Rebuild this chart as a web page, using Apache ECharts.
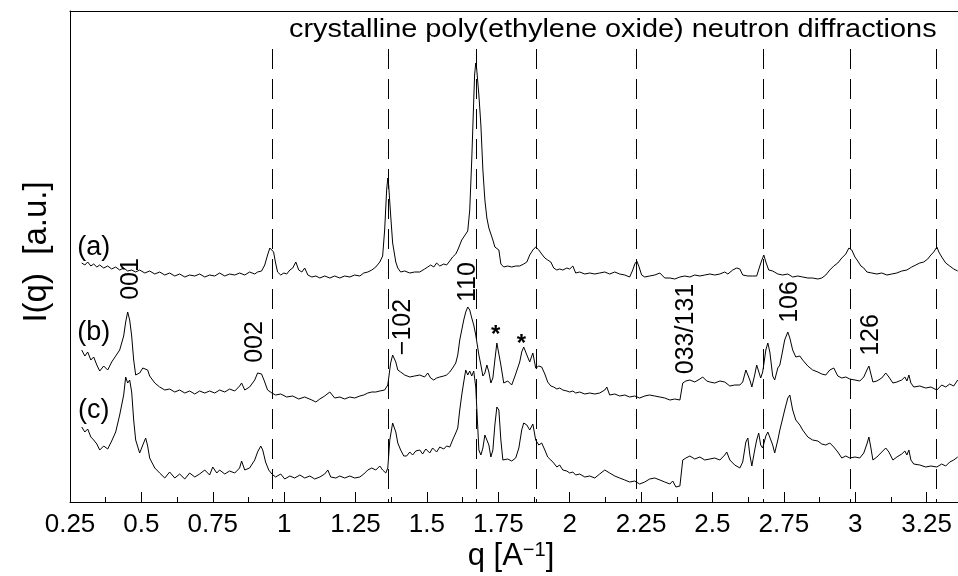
<!DOCTYPE html>
<html>
<head>
<meta charset="utf-8">
<script src="https://cdn.jsdelivr.net/npm/echarts@6/dist/echarts.min.js"></script>
<style>
  html, body { margin: 0; padding: 0; background: #fff; }
  #chart { width: 958px; height: 576px; }
</style>
</head>
<body>
<div id="chart"></div>
<script>
// Neutron diffraction patterns I(q), offset vertically: (a) crystalline PEO, (b), (c)
const curveA = [[0.291,239],[0.302,237],[0.312,240],[0.323,236],[0.333,238],[0.344,235],[0.354,237],[0.368,234],[0.382,236],[0.396,233],[0.410,235],[0.424,232],[0.438,234],[0.452,231],[0.466,232],[0.480,230],[0.494,232],[0.512,229],[0.529,231],[0.547,228],[0.564,230],[0.582,227],[0.599,229],[0.617,226],[0.634,228],[0.652,225],[0.669,227],[0.687,226],[0.704,228],[0.722,225],[0.739,227],[0.757,226],[0.774,229],[0.792,226],[0.809,228],[0.827,227],[0.844,229],[0.862,227],[0.879,230],[0.897,228],[0.907,230],[0.921,231],[0.932,237],[0.942,247],[0.950,254],[0.957,255],[0.963,250],[0.970,239],[0.977,230],[0.988,227],[0.999,229],[1.009,228],[1.020,232],[1.030,234],[1.041,240],[1.051,232],[1.062,230],[1.072,234],[1.083,227],[1.097,225],[1.111,226],[1.125,224],[1.142,226],[1.160,224],[1.177,226],[1.195,224],[1.212,226],[1.230,225],[1.247,227],[1.265,226],[1.279,229],[1.293,230],[1.307,232],[1.321,235],[1.335,240],[1.345,246],[1.352,272],[1.359,312],[1.363,324],[1.366,317],[1.373,287],[1.380,259],[1.391,240],[1.398,234],[1.408,230],[1.422,231],[1.440,229],[1.457,230],[1.475,230],[1.492,233],[1.503,235],[1.513,237],[1.524,235],[1.534,239],[1.545,236],[1.559,238],[1.569,237],[1.580,241],[1.590,245],[1.601,248],[1.608,252],[1.615,257],[1.622,262],[1.629,264],[1.636,268],[1.643,271],[1.650,292],[1.657,342],[1.664,402],[1.667,427],[1.671,439],[1.674,434],[1.682,407],[1.689,377],[1.696,332],[1.703,302],[1.710,284],[1.717,274],[1.724,268],[1.731,262],[1.738,255],[1.745,256],[1.752,252],[1.759,238],[1.769,235],[1.783,236],[1.797,235],[1.811,236],[1.825,236],[1.839,238],[1.850,240],[1.860,247],[1.871,252],[1.881,255],[1.892,252],[1.902,248],[1.913,244],[1.923,242],[1.934,240],[1.944,234],[1.955,232],[1.965,233],[1.976,232],[1.990,234],[2.000,233],[2.011,236],[2.021,229],[2.035,230],[2.053,228],[2.070,229],[2.088,228],[2.105,229],[2.123,230],[2.140,228],[2.158,230],[2.175,228],[2.193,227],[2.210,225],[2.221,232],[2.228,238],[2.235,241],[2.242,236],[2.252,227],[2.263,225],[2.280,226],[2.298,227],[2.316,229],[2.333,224],[2.351,224],[2.368,223],[2.386,225],[2.403,226],[2.421,225],[2.438,227],[2.456,226],[2.473,227],[2.491,228],[2.508,227],[2.526,228],[2.543,230],[2.554,228],[2.571,232],[2.585,234],[2.596,233],[2.606,227],[2.624,226],[2.641,226],[2.655,226],[2.666,236],[2.673,242],[2.680,247],[2.687,240],[2.697,232],[2.711,231],[2.729,228],[2.746,227],[2.764,228],[2.781,225],[2.799,226],[2.816,225],[2.834,224],[2.851,224],[2.869,223],[2.883,224],[2.897,227],[2.911,232],[2.925,236],[2.939,239],[2.953,244],[2.967,248],[2.978,254],[2.981,256],[2.988,252],[2.999,245],[3.009,241],[3.020,236],[3.030,234],[3.041,230],[3.058,229],[3.076,228],[3.093,229],[3.111,227],[3.128,228],[3.146,229],[3.163,231],[3.181,232],[3.198,235],[3.212,237],[3.226,239],[3.240,240],[3.254,243],[3.265,247],[3.275,250],[3.286,255],[3.293,250],[3.303,245],[3.317,239],[3.331,236],[3.345,233],[3.359,231]];

const curveB = [[0.291,152],[0.302,146],[0.312,150],[0.323,142],[0.333,145],[0.344,137],[0.354,131],[0.368,136],[0.382,132],[0.396,140],[0.410,146],[0.424,152],[0.438,166],[0.445,180],[0.452,190],[0.459,182],[0.466,166],[0.473,142],[0.480,127],[0.494,129],[0.505,134],[0.512,136],[0.522,132],[0.529,126],[0.547,119],[0.564,115],[0.582,112],[0.599,113],[0.617,110],[0.634,112],[0.652,109],[0.669,111],[0.687,108],[0.704,111],[0.722,109],[0.739,111],[0.757,109],[0.774,112],[0.792,110],[0.809,113],[0.827,111],[0.844,116],[0.851,119],[0.862,112],[0.879,115],[0.897,122],[0.907,129],[0.914,131],[0.921,128],[0.932,120],[0.942,112],[0.957,109],[0.970,107],[0.988,108],[1.009,105],[1.030,106],[1.051,103],[1.072,105],[1.097,102],[1.111,100],[1.125,103],[1.142,106],[1.160,110],[1.177,104],[1.195,105],[1.212,103],[1.230,105],[1.247,104],[1.265,106],[1.279,107],[1.293,109],[1.307,110],[1.321,110],[1.335,111],[1.352,112],[1.363,117],[1.373,139],[1.380,147],[1.391,140],[1.398,132],[1.408,130],[1.422,127],[1.440,125],[1.457,126],[1.475,127],[1.492,125],[1.503,129],[1.513,124],[1.524,122],[1.534,124],[1.545,125],[1.559,126],[1.569,127],[1.580,130],[1.590,134],[1.601,139],[1.608,147],[1.615,162],[1.622,172],[1.629,182],[1.636,190],[1.643,195],[1.650,192],[1.657,184],[1.664,177],[1.671,167],[1.682,147],[1.689,137],[1.696,126],[1.703,129],[1.710,137],[1.717,130],[1.724,119],[1.731,124],[1.738,142],[1.745,159],[1.752,157],[1.759,137],[1.769,119],[1.783,121],[1.797,117],[1.811,128],[1.825,140],[1.832,150],[1.839,155],[1.850,147],[1.860,140],[1.871,149],[1.881,134],[1.892,136],[1.902,135],[1.913,128],[1.923,120],[1.934,116],[1.944,115],[1.955,113],[1.965,114],[1.976,112],[1.990,111],[2.000,110],[2.011,111],[2.021,109],[2.035,110],[2.053,108],[2.070,109],[2.088,108],[2.105,109],[2.123,112],[2.130,115],[2.140,107],[2.158,108],[2.175,106],[2.193,107],[2.210,105],[2.228,106],[2.245,104],[2.263,106],[2.280,107],[2.298,106],[2.316,105],[2.333,104],[2.351,102],[2.368,103],[2.386,102],[2.396,119],[2.407,121],[2.421,122],[2.438,120],[2.456,123],[2.466,125],[2.480,121],[2.491,120],[2.508,119],[2.526,121],[2.543,120],[2.561,116],[2.578,117],[2.596,117],[2.606,120],[2.617,132],[2.624,134],[2.631,122],[2.638,115],[2.648,127],[2.655,137],[2.662,139],[2.669,124],[2.676,130],[2.687,152],[2.694,159],[2.701,150],[2.711,126],[2.718,122],[2.729,134],[2.736,137],[2.743,147],[2.753,162],[2.764,170],[2.771,164],[2.781,152],[2.792,145],[2.806,146],[2.816,142],[2.834,136],[2.851,132],[2.869,130],[2.883,128],[2.897,127],[2.911,132],[2.925,134],[2.939,126],[2.953,124],[2.967,125],[2.981,123],[2.999,122],[3.016,121],[3.030,125],[3.041,132],[3.048,136],[3.055,128],[3.062,120],[3.076,121],[3.093,124],[3.107,129],[3.118,125],[3.132,119],[3.146,120],[3.163,122],[3.174,125],[3.181,121],[3.188,127],[3.195,119],[3.205,115],[3.226,116],[3.247,114],[3.265,115],[3.286,112],[3.303,117],[3.317,115],[3.331,118],[3.345,116],[3.359,122]];

const curveC = [[0.291,75],[0.302,70],[0.312,73],[0.323,65],[0.333,62],[0.344,58],[0.354,52],[0.368,56],[0.382,53],[0.396,61],[0.410,70],[0.424,87],[0.438,107],[0.445,125],[0.452,119],[0.459,122],[0.466,110],[0.473,82],[0.480,62],[0.494,49],[0.505,57],[0.515,64],[0.522,56],[0.529,44],[0.536,40],[0.547,34],[0.564,29],[0.582,24],[0.599,30],[0.617,24],[0.634,28],[0.652,23],[0.669,29],[0.687,25],[0.704,28],[0.722,32],[0.739,27],[0.750,35],[0.764,29],[0.774,32],[0.792,28],[0.809,31],[0.827,29],[0.844,34],[0.851,41],[0.862,32],[0.879,34],[0.897,42],[0.907,50],[0.918,56],[0.925,52],[0.935,40],[0.946,32],[0.957,28],[0.970,25],[0.988,28],[1.002,23],[1.020,26],[1.037,24],[1.055,27],[1.072,24],[1.090,26],[1.107,23],[1.125,25],[1.142,28],[1.153,32],[1.163,25],[1.181,24],[1.195,26],[1.212,24],[1.230,26],[1.247,24],[1.265,25],[1.279,28],[1.293,32],[1.307,34],[1.321,32],[1.335,36],[1.345,32],[1.356,29],[1.363,34],[1.370,62],[1.380,79],[1.391,70],[1.398,59],[1.408,52],[1.419,46],[1.429,46],[1.440,50],[1.450,47],[1.461,51],[1.475,52],[1.485,48],[1.496,53],[1.510,49],[1.520,54],[1.534,50],[1.545,55],[1.559,53],[1.569,56],[1.580,55],[1.590,62],[1.601,69],[1.608,74],[1.615,92],[1.622,107],[1.629,120],[1.636,132],[1.643,127],[1.650,131],[1.657,126],[1.664,131],[1.671,115],[1.682,52],[1.689,47],[1.696,54],[1.703,67],[1.710,69],[1.717,57],[1.724,45],[1.731,52],[1.738,77],[1.745,95],[1.752,92],[1.759,62],[1.766,42],[1.783,43],[1.797,41],[1.811,44],[1.822,54],[1.832,72],[1.839,79],[1.850,77],[1.860,72],[1.871,78],[1.881,62],[1.892,57],[1.902,59],[1.913,52],[1.923,45],[1.934,42],[1.944,39],[1.955,35],[1.965,37],[1.976,32],[1.990,31],[2.000,29],[2.011,30],[2.021,27],[2.035,28],[2.053,25],[2.070,26],[2.088,24],[2.105,28],[2.123,32],[2.130,34],[2.140,29],[2.158,26],[2.175,24],[2.193,22],[2.210,20],[2.228,21],[2.245,18],[2.263,20],[2.280,23],[2.298,24],[2.316,22],[2.333,20],[2.351,18],[2.361,21],[2.372,15],[2.386,16],[2.396,42],[2.407,44],[2.421,46],[2.438,43],[2.456,45],[2.473,42],[2.491,43],[2.508,44],[2.526,42],[2.543,47],[2.550,50],[2.561,42],[2.578,37],[2.596,34],[2.606,40],[2.617,60],[2.624,64],[2.631,47],[2.638,36],[2.648,52],[2.655,62],[2.662,69],[2.669,57],[2.676,54],[2.687,66],[2.694,70],[2.701,70],[2.711,57],[2.718,49],[2.729,62],[2.736,72],[2.743,80],[2.753,92],[2.764,104],[2.771,107],[2.781,92],[2.792,82],[2.806,77],[2.816,72],[2.834,65],[2.851,62],[2.869,61],[2.883,58],[2.897,57],[2.911,59],[2.925,55],[2.939,50],[2.953,44],[2.967,46],[2.981,44],[2.999,45],[3.016,44],[3.030,49],[3.041,58],[3.048,65],[3.055,54],[3.062,42],[3.076,45],[3.093,50],[3.107,54],[3.118,50],[3.132,42],[3.146,45],[3.163,48],[3.174,51],[3.181,47],[3.188,52],[3.195,42],[3.205,38],[3.226,37],[3.247,35],[3.265,36],[3.286,35],[3.303,38],[3.317,36],[3.331,40],[3.345,42],[3.359,45]];

// Crystalline PEO reflection positions (dashed guides)
const reflectionQ = [0.958, 1.363, 1.673, 1.882, 2.232, 2.679, 2.981, 3.285];
const reflectionTop = 453;

// Miller index annotations
const indexLabels = ['001', '002', '\u2212102', '110', '033/131', '106', '126'];
const indexLabelQ = [0.465, 0.900, 1.416, 1.644, 2.409, 2.771, 3.054];
const indexLabelI = [223, 160, 175, 220, 173, 200, 167];

// Extra peaks marked with asterisks
const starQ = [1.741, 1.831];
const starI = [167, 158];

// Pattern names
const sampleNames = ['(a)', '(b)', '(c)'];
const sampleLabelQ = [0.333, 0.333, 0.333];
const sampleLabelI = [254, 169, 91];

const FONT = '"Liberation Sans", Arial, Helvetica, sans-serif';
const Q_MIN = 0.25, Q_MAX = 3.36, I_MAX = 491;

const chart = echarts.init(document.getElementById('chart'), null, { renderer: 'canvas' });

function curveSeries(name, data) {
  return {
    name, type: 'line', data, xAxisIndex: 0, yAxisIndex: 0,
    showSymbol: false, symbol: 'none', smooth: false, silent: true,
    lineStyle: { color: '#000', width: 1 }, z: 3
  };
}

function labelSeries(name, qs, is, texts, rotate, size, fontWeight) {
  return {
    name, type: 'scatter', xAxisIndex: 0, yAxisIndex: 0, silent: true,
    symbolSize: 1, itemStyle: { color: 'transparent', opacity: 1 }, z: 5,
    data: qs.map((q, k) => [q, is[k], texts[k]]),
    label: {
      show: true, position: 'inside', rotate, opacity: 1,
      formatter: p => p.data[2],
      color: '#000', fontSize: size, fontFamily: FONT, fontWeight: fontWeight || 'normal',
      textBorderWidth: 0
    },
    emphasis: { disabled: true }
  };
}

const option = {
  animation: false,
  backgroundColor: '#fff',
  grid: { left: 70, right: 0, top: 11, bottom: 74, containLabel: false, outerBoundsMode: 'none' },
  xAxis: [
    {
      type: 'value', position: 'bottom', min: Q_MIN, max: Q_MAX, interval: 0.25,
      axisLine: { show: true, lineStyle: { color: '#000', width: 1 } },
      axisTick: { show: true, inside: true, length: 10, lineStyle: { color: '#000', width: 1 } },
      axisLabel: { show: true, showMaxLabel: false, color: '#000', fontSize: 26, fontFamily: FONT, margin: 10 },
      splitLine: { show: false }
    },
    {
      type: 'value', position: 'bottom', min: Q_MIN, max: Q_MAX, interval: 0.125,
      axisLine: { show: false },
      axisTick: { show: true, inside: true, length: 5, lineStyle: { color: '#000', width: 1 } },
      axisLabel: { show: false },
      splitLine: { show: false }
    },
    {
      type: 'value', position: 'top', min: Q_MIN, max: Q_MAX,
      axisLine: { show: true, lineStyle: { color: '#000', width: 1 } },
      axisTick: { show: false }, axisLabel: { show: false }, splitLine: { show: false }
    }
  ],
  yAxis: {
    type: 'value', min: 0, max: I_MAX,
    axisLine: { show: true, lineStyle: { color: '#000', width: 1 } },
    axisTick: { show: false }, axisLabel: { show: false }, splitLine: { show: false }
  },
  series: [
    Object.assign(curveSeries('(a)', curveA), {
      markLine: {
        silent: true, symbol: ['none', 'none'], animation: false,
        label: { show: false },
        lineStyle: { color: '#000', width: 1, type: [20, 10] },
        emphasis: { disabled: true },
        data: reflectionQ.map(q => [{ coord: [q, reflectionTop] }, { coord: [q, 0] }])
      }
    }),
    curveSeries('(b)', curveB),
    curveSeries('(c)', curveC),
    labelSeries('index', indexLabelQ, indexLabelI, indexLabels, 90, 25),
    labelSeries('stars', starQ, starI, ['*', '*'], 0, 24, 'bold'),
    labelSeries('names', sampleLabelQ, sampleLabelI, sampleNames, 0, 27)
  ],
  graphic: [
    {
      type: 'text', x: 289, y: 30, scaleX: 1.11, silent: true,
      style: {
        text: 'crystalline poly(ethylene oxide) neutron diffractions',
        font: '26px ' + FONT, fill: '#000', textAlign: 'left', textVerticalAlign: 'middle'
      }
    },
    {
      type: 'text', x: 37, y: 252, rotation: Math.PI / 2, silent: true,
      style: {
        text: 'I(q)  [a.u.]',
        font: '33px ' + FONT, fill: '#000', textAlign: 'center', textVerticalAlign: 'middle'
      }
    },
    {
      type: 'text', x: 511, y: 556, silent: true,
      style: {
        text: 'q [A{sup|\u22121}]',
        font: '31px ' + FONT, fill: '#000', align: 'center', verticalAlign: 'middle',
        rich: { sup: { fontSize: 20, fontFamily: FONT, fill: '#000', padding: [0, 0, 12, 0] } }
      }
    }
  ]
};

chart.setOption(option);
</script>
</body>
</html>
